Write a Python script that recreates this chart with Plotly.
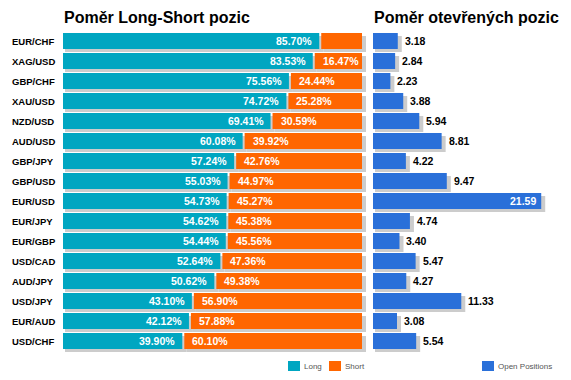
import plotly.graph_objects as go

pairs = ["EUR/CHF", "XAG/USD", "GBP/CHF", "XAU/USD", "NZD/USD", "AUD/USD", "GBP/JPY",
         "GBP/USD", "EUR/USD", "EUR/JPY", "EUR/GBP", "USD/CAD", "AUD/JPY", "USD/JPY",
         "EUR/AUD", "USD/CHF"]
long_pct = [85.70, 83.53, 75.56, 74.72, 69.41, 60.08, 57.24, 55.03, 54.73, 54.62, 54.44,
            52.64, 50.62, 43.10, 42.12, 39.90]
short_pct = [14.30, 16.47, 24.44, 25.28, 30.59, 39.92, 42.76, 44.97, 45.27, 45.38, 45.56,
             47.36, 49.38, 56.90, 57.88, 60.10]
open_pos = [3.18, 2.84, 2.23, 3.88, 5.94, 8.81, 4.22, 9.47, 21.59, 4.74, 3.40, 5.47, 4.27,
            11.33, 3.08, 5.54]

title_left = "Poměr Long-Short pozic"
title_right = "Poměr otevřených pozic"
legend_long, legend_short, legend_open = "Long", "Short", "Open Positions"

TEAL = "#00a6c1"
ORANGE = "#ff6600"
BLUE = "#2a70d9"
SHADOW = "#cccccc"
FONT = "Liberation Sans, Arial, sans-serif"

W, H = 571, 380
# plot geometry (pixels)
L_X0, L_X100, L_X1 = 63, 362, 370     # 0%, 100%, domain right edge
R_X0, R_X1 = 373, 560
TOP_PX, BOT_PX = 31, 353
Y_RANGE = [15.6, -0.5]
L_PPU = (L_X100 - L_X0) / 100
L_RANGE = [0, (L_X1 - L_X0) / L_PPU]
R_RANGE = [0, 24]
R_PPU = (R_X1 - R_X0) / R_RANGE[1]

gap = 2.0 / L_PPU            # 2px gap between long and short
l_sh0, l_sh1 = 2 / L_PPU, 4 / L_PPU   # shadow start/end shifts
r_sh0, r_sh1 = 2 / R_PPU, 4 / R_PPU
BW = 0.8
SH_OFF = -BW / 2 + 0.15

n = len(pairs)
short_base = [l + gap for l in long_pct]
short_len = [s - gap for s in short_pct]

fig = go.Figure()
common = dict(orientation="h", width=BW, showlegend=False, hoverinfo="skip")

# shadows
fig.add_trace(go.Bar(y=pairs, x=[l + l_sh1 - l_sh0 for l in long_pct], base=[l_sh0] * n,
                     offset=SH_OFF, marker=dict(color=SHADOW, line_width=0),
                     xaxis="x", yaxis="y", **common))
fig.add_trace(go.Bar(y=pairs, x=[s + l_sh1 - l_sh0 for s in short_len],
                     base=[b + l_sh0 for b in short_base], offset=SH_OFF,
                     marker=dict(color=SHADOW, line_width=0), xaxis="x", yaxis="y", **common))
fig.add_trace(go.Bar(y=pairs, x=[o + r_sh1 - r_sh0 for o in open_pos], base=[r_sh0] * n,
                     offset=SH_OFF, marker=dict(color=SHADOW, line_width=0),
                     xaxis="x2", yaxis="y2", **common))
# main bars
fig.add_trace(go.Bar(y=pairs, x=long_pct, base=[0] * n, offset=-BW / 2, name=legend_long,
                     marker=dict(color=TEAL, line_width=0), xaxis="x", yaxis="y", **common))
fig.add_trace(go.Bar(y=pairs, x=short_len, base=short_base, offset=-BW / 2, name=legend_short,
                     marker=dict(color=ORANGE, line_width=0), xaxis="x", yaxis="y", **common))
fig.add_trace(go.Bar(y=pairs, x=open_pos, base=[0] * n, offset=-BW / 2, name=legend_open,
                     marker=dict(color=BLUE, line_width=0), xaxis="x2", yaxis="y2", **common))

ann = []
val_font = dict(family=FONT, size=10.5, color="white")
for p, l, sb, s, o in zip(pairs, long_pct, short_base, short_pct, open_pos):
    ann.append(dict(x=l, y=p, xref="x", yref="y", text=f"<b>{l:.2f}%</b>", showarrow=False,
                    xanchor="right", xshift=-5, font=val_font))
    if s >= 15:
        ann.append(dict(x=sb, y=p, xref="x", yref="y", text=f"<b>{s:.2f}%</b>", showarrow=False,
                        xanchor="left", xshift=6, font=val_font))
    ann.append(dict(x=10 / W, y=p, xref="paper", yref="y", text=f"<b>{p}</b>", showarrow=False,
                    xanchor="left", font=dict(family=FONT, size=9.5, color="#000")))
    if o > 15:
        ann.append(dict(x=o, y=p, xref="x2", yref="y2", text=f"<b>{o:.2f}</b>", showarrow=False,
                        xanchor="right", xshift=-3, font=val_font))
    else:
        ann.append(dict(x=o, y=p, xref="x2", yref="y2", text=f"<b>{o:.2f}</b>", showarrow=False,
                        xanchor="left", xshift=5, font=dict(family=FONT, size=10.5, color="#000")))

# titles
for txt, xp in [(title_left, L_X0), (title_right, R_X0)]:
    ann.append(dict(x=(xp - 1) / W, y=(H - 17) / H, xref="paper", yref="paper",
                    text=f"<b>{txt}</b>", showarrow=False, xanchor="left", yanchor="middle",
                    font=dict(family=FONT, size=16, color="#000")))

# legends
shapes = []
for col, x0, label in [(TEAL, 288, legend_long), (ORANGE, 329, legend_short), (BLUE, 482, legend_open)]:
    shapes.append(dict(type="rect", xref="paper", yref="paper", x0=x0 / W, x1=(x0 + 12) / W,
                       y0=(H - 371) / H, y1=(H - 361) / H, fillcolor=col, line_width=0))
    ann.append(dict(x=(x0 + 14) / W, y=(H - 366) / H, xref="paper", yref="paper", text=label,
                    showarrow=False, xanchor="left", yanchor="middle",
                    font=dict(family=FONT, size=8, color="#555")))

ydom = [(H - BOT_PX) / H, (H - TOP_PX) / H]
axis_off = dict(showgrid=False, zeroline=False, showticklabels=False, showline=False, ticks="")
fig.update_layout(
    width=W, height=H, margin=dict(l=0, r=0, t=0, b=0),
    paper_bgcolor="white", plot_bgcolor="white", barmode="overlay", showlegend=False,
    xaxis=dict(domain=[L_X0 / W, L_X1 / W], range=L_RANGE, **axis_off),
    xaxis2=dict(domain=[R_X0 / W, R_X1 / W], range=R_RANGE, **axis_off),
    yaxis=dict(domain=ydom, type="category", categoryorder="array", categoryarray=pairs,
               range=Y_RANGE, anchor="x", **axis_off),
    yaxis2=dict(domain=ydom, type="category", categoryorder="array", categoryarray=pairs,
                range=Y_RANGE, anchor="x2", **axis_off),
    annotations=ann, shapes=shapes,
)
fig.write_html("out.html", config={"displayModeBar": False},
               post_script="document.body.style.margin='0';document.body.style.overflow='hidden';")
